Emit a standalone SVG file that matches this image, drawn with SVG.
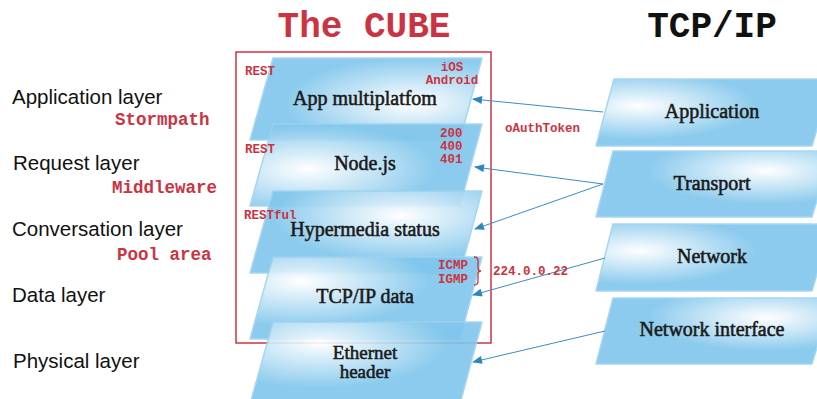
<svg xmlns="http://www.w3.org/2000/svg" width="817" height="399" viewBox="0 0 817 399">
<style>
.title{font-family:"Liberation Mono",monospace;font-weight:bold;font-size:36px}
.lbl{font-family:"Liberation Sans",Arial,sans-serif;font-size:20.5px;fill:#111}
.red{font-family:"Liberation Mono",monospace;font-weight:bold;fill:#cc3341}
.r17{font-size:17.5px}
.r13{font-size:12.5px}
.node{font-family:"Liberation Serif","Times New Roman",serif;font-size:20px;fill:#1a1a1a;stroke:#1a1a1a;stroke-width:0.55;text-anchor:middle}
.shape{stroke:#9dd2f0;stroke-width:1.5;stroke-linejoin:round;opacity:0.9}
.conn{stroke:#3b8dc2;stroke-width:1;fill:none;marker-end:url(#arr)}
</style>
<defs>
<marker id="arr" viewBox="0 0 10 8" refX="9" refY="4" markerWidth="11" markerHeight="8" markerUnits="userSpaceOnUse" orient="auto">
<path d="M0,0 L10,4 L0,8 z" fill="#2f86bf"/>
</marker>
<radialGradient id="g1" cx="0.7" cy="0.55" r="0.55"><stop offset="0" stop-color="#ffffff"/><stop offset="1" stop-color="#80c6ec"/></radialGradient>
<radialGradient id="g2" cx="0.25" cy="0.55" r="0.55"><stop offset="0" stop-color="#ffffff"/><stop offset="1" stop-color="#80c6ec"/></radialGradient>
<radialGradient id="g3" cx="0.65" cy="0.3" r="0.55"><stop offset="0" stop-color="#ffffff"/><stop offset="1" stop-color="#80c6ec"/></radialGradient>
<radialGradient id="g4" cx="0.22" cy="0.3" r="0.55"><stop offset="0" stop-color="#ffffff"/><stop offset="1" stop-color="#80c6ec"/></radialGradient>
<radialGradient id="g5" cx="0.3" cy="0.25" r="0.55"><stop offset="0" stop-color="#ffffff"/><stop offset="1" stop-color="#80c6ec"/></radialGradient>
<radialGradient id="g6" cx="0.18" cy="0.4" r="0.5"><stop offset="0" stop-color="#ffffff"/><stop offset="1" stop-color="#80c6ec"/></radialGradient>
<radialGradient id="g7" cx="0.72" cy="0.3" r="0.5"><stop offset="0" stop-color="#ffffff"/><stop offset="1" stop-color="#80c6ec"/></radialGradient>
</defs>
<rect width="817" height="399" fill="#ffffff"/>

<text class="title" x="364" y="37" text-anchor="middle" fill="#cc3341">The CUBE</text>
<text class="title" x="712" y="37" text-anchor="middle" fill="#111">TCP/IP</text>

<g id="left-labels">
<text class="lbl" x="12" y="104">Application layer</text>
<text class="red r17" x="115" y="125">Stormpath</text>
<text class="lbl" x="13" y="170">Request layer</text>
<text class="red r17" x="112" y="193">Middleware</text>
<text class="lbl" x="12" y="236">Conversation layer</text>
<text class="red r17" x="117" y="260">Pool area</text>
<text class="lbl" x="12" y="302">Data layer</text>
<text class="lbl" x="13" y="368">Physical layer</text>
</g>

<rect id="cube-frame" x="236" y="52" width="255" height="291" fill="none" stroke="#cc3341" stroke-width="1.5"/>

<g id="app-multiplatform">
<polygon class="shape" fill="url(#g1)" points="273,58 482,58 460,140 250,140"/>
<text class="node" x="365" y="105">App multiplatfom</text>
<text class="red r13" x="245" y="75">REST</text>
<text class="red r13" x="452" y="71" text-anchor="middle">iOS</text>
<text class="red r13" x="452" y="84" text-anchor="middle">Android</text>
</g>
<g id="nodejs">
<polygon class="shape" fill="url(#g2)" points="273,124 482,124 460,206 250,206"/>
<text class="node" x="365" y="170">Node.js</text>
<text class="red r13" x="245" y="153">REST</text>
<text class="red r13" x="440" y="137">200</text>
<text class="red r13" x="440" y="150">400</text>
<text class="red r13" x="440" y="163">401</text>
</g>
<g id="hypermedia">
<polygon class="shape" fill="url(#g3)" points="273,191 482,191 460,273 250,273"/>
<text class="node" x="365" y="236">Hypermedia status</text>
<text class="red r13" x="244" y="219">RESTful</text>
</g>
<g id="tcpip-data">
<polygon class="shape" fill="url(#g4)" points="273,257 482,257 460,339 250,339"/>
<text class="node" x="365" y="303">TCP/IP data</text>
<text class="red r13" x="438" y="269">ICMP</text>
<text class="red r13" x="438" y="283">IGMP</text>
<path d="M474,257 Q478,257 478,261 L478,268 Q478,271 481,271 Q478,271 478,274 L478,281 Q478,285 474,285" fill="none" stroke="#cc3341" stroke-width="1.3"/>
</g>
<g id="ethernet">
<polygon class="shape" fill="url(#g5)" points="273,322 482,322 460,404 250,404"/>
<text class="node" x="365" y="359" style="font-size:19px">Ethernet</text>
<text class="node" x="365" y="378" style="font-size:19px">header</text>
</g>

<g id="application">
<polygon class="shape" fill="url(#g6)" points="614,79 832,79 812,146 596,146"/>
<text class="node" x="712" y="118">Application</text>
</g>
<g id="transport">
<polygon class="shape" fill="url(#g7)" points="613,151 832,151 812,217 596,217"/>
<text class="node" x="712" y="190">Transport</text>
</g>
<g id="network">
<polygon class="shape" fill="url(#g6)" points="613,224 832,224 812,291 596,291"/>
<text class="node" x="712" y="263">Network</text>
</g>
<g id="network-interface">
<polygon class="shape" fill="url(#g7)" points="613,298 832,298 812,364 596,364"/>
<text class="node" x="712" y="336">Network interface</text>
</g>

<g id="connectors">
<line class="conn" x1="603" y1="112" x2="473" y2="99"/>
<line class="conn" x1="603" y1="184" x2="475" y2="167"/>
<line class="conn" x1="603" y1="184" x2="475" y2="229"/>
<line class="conn" x1="605" y1="258" x2="473" y2="295"/>
<line class="conn" x1="605" y1="331" x2="473" y2="362"/>
</g>

<g id="edge-labels">
<text class="red r13" x="505" y="132">oAuthToken</text>
<text class="red r13" x="493" y="275">224.0.0.22</text>
</g>
</svg>
